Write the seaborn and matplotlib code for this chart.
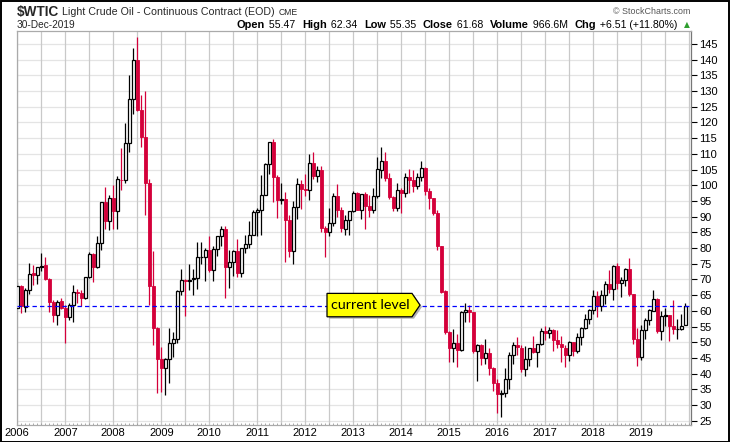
import numpy as np
import pandas as pd
import matplotlib
matplotlib.use("Agg")
import matplotlib.pyplot as plt
from matplotlib.patches import Polygon, Rectangle
import seaborn as sns

# ---------------- data (monthly OHLC, Jan 2006 .. Dec 2019) ----------------
years = list(range(2006, 2020))
opens = [
    61.04, 67.93, 61.30, 66.70, 71.90, 71.30, 73.95, 74.45, 70.20, 62.90, 58.75, 62.99,
    61.05, 58.16, 61.80, 65.90, 65.70, 64.00, 70.70, 78.20, 74.00, 81.60, 94.60, 88.70,
    96.00, 91.80, 101.80, 101.60, 113.50, 127.40, 140.00, 124.10, 115.50, 100.60, 67.80, 54.40,
    44.60, 41.70, 44.80, 49.70, 51.10, 66.30, 69.90, 69.50, 70.00, 70.60, 77.00, 77.30,
    79.40, 72.90, 79.70, 83.80, 86.20, 74.00, 75.60, 79.00, 71.90, 80.00, 81.40, 84.10,
    91.40, 92.20, 97.00, 106.70, 113.90, 102.70, 95.40, 95.70, 88.80, 79.20, 93.20, 100.40,
    98.80, 98.50, 107.10, 103.00, 104.90, 86.50, 85.00, 88.10, 96.50, 92.20, 86.20, 88.90,
    91.80, 97.50, 92.00, 97.20, 93.50, 92.00, 96.60, 105.00, 107.70, 102.30, 96.40, 92.70,
    98.40, 97.50, 102.60, 101.60, 99.70, 102.70, 105.40, 98.20, 96.00, 91.20, 80.50, 66.20,
    53.30, 48.20, 49.80, 47.60, 59.60, 60.30, 59.50, 47.10, 49.20, 45.10, 46.60, 41.70,
    37.00, 33.60, 33.80, 38.30, 45.90, 49.10, 48.30, 41.60, 44.70, 48.20, 46.90, 49.40,
    53.70, 52.80, 54.00, 50.60, 49.30, 48.30, 46.00, 50.20, 47.20, 51.70, 54.40, 57.40,
    60.40, 64.70, 61.60, 64.90, 68.60, 67.00, 74.20, 68.80, 69.80, 73.30, 65.30, 50.90,
    45.40, 53.80, 57.20, 60.10, 63.90, 53.50, 58.50, 58.60, 55.10, 54.10, 54.20, 55.47,
]
highs = [
    69.20, 68.30, 67.25, 75.35, 74.60, 74.05, 78.40, 77.05, 70.40, 63.50, 63.50, 64.00,
    62.00, 62.40, 68.09, 66.80, 66.70, 70.85, 78.77, 78.30, 83.90, 94.74, 99.29, 97.00,
    100.09, 103.05, 111.80, 119.93, 135.09, 143.67, 147.27, 128.60, 130.00, 102.00, 79.00, 55.00,
    48.60, 45.00, 54.66, 53.10, 66.50, 73.38, 70.00, 75.00, 73.40, 82.00, 82.00, 80.00,
    83.95, 80.50, 83.85, 87.15, 87.00, 79.40, 79.30, 83.00, 80.10, 84.00, 88.63, 92.00,
    92.60, 103.40, 107.00, 113.90, 114.80, 103.40, 100.60, 98.00, 90.50, 95.00, 102.40, 101.80,
    103.70, 109.95, 110.55, 106.00, 106.00, 87.00, 92.90, 97.50, 100.40, 93.00, 90.50, 91.90,
    98.24, 97.80, 97.35, 97.70, 97.00, 99.10, 108.90, 112.24, 110.74, 104.00, 96.50, 100.80,
    99.00, 103.80, 105.20, 104.99, 104.00, 107.68, 105.80, 99.00, 95.90, 92.20, 80.50, 66.60,
    53.50, 54.24, 52.50, 59.90, 62.58, 61.90, 59.70, 49.30, 49.50, 50.90, 48.00, 42.00,
    38.40, 34.70, 41.90, 46.80, 50.20, 51.67, 49.00, 48.75, 48.30, 51.93, 49.20, 54.50,
    55.24, 54.90, 54.30, 53.80, 52.00, 49.00, 50.40, 50.20, 52.90, 54.90, 59.05, 60.50,
    66.66, 66.30, 66.60, 69.56, 72.90, 74.46, 75.27, 70.90, 73.80, 76.90, 65.50, 54.60,
    55.40, 57.80, 60.70, 66.60, 63.98, 59.90, 60.90, 58.60, 63.38, 57.30, 58.90, 62.34,
]
lows = [
    60.46, 59.20, 59.60, 65.40, 68.10, 68.50, 72.60, 69.75, 59.52, 56.55, 55.35, 60.70,
    49.90, 57.20, 56.40, 62.60, 61.40, 63.80, 70.30, 69.10, 73.60, 79.50, 86.00, 85.70,
    86.11, 86.10, 98.65, 100.70, 110.70, 122.80, 123.70, 112.24, 90.51, 62.00, 49.00, 33.90,
    34.00, 33.20, 37.00, 45.40, 49.90, 65.00, 58.32, 66.60, 65.05, 66.90, 75.00, 69.50,
    72.43, 69.50, 77.60, 80.50, 64.24, 67.20, 71.00, 70.80, 70.80, 78.50, 80.00, 84.00,
    83.90, 84.10, 97.00, 103.50, 94.60, 89.70, 94.00, 75.70, 77.10, 74.95, 89.20, 92.50,
    96.60, 95.40, 102.00, 101.00, 85.00, 77.28, 83.70, 87.00, 90.00, 85.00, 84.00, 84.00,
    91.60, 92.00, 89.30, 86.06, 89.80, 91.10, 96.00, 102.20, 101.50, 95.60, 91.80, 91.80,
    91.20, 96.20, 97.40, 98.00, 98.70, 101.50, 97.00, 92.50, 90.50, 79.40, 65.70, 52.60,
    43.60, 43.60, 42.03, 47.10, 56.50, 56.50, 46.70, 37.75, 42.60, 43.00, 39.70, 34.50,
    27.56, 26.05, 32.70, 35.20, 43.00, 45.80, 40.60, 39.20, 42.50, 46.60, 42.20, 49.20,
    50.70, 51.20, 47.10, 48.20, 43.80, 42.05, 44.10, 45.60, 46.70, 49.10, 54.20, 55.80,
    59.00, 58.07, 59.90, 62.30, 65.80, 63.60, 67.00, 64.40, 67.90, 64.80, 49.40, 42.36,
    44.35, 50.90, 55.40, 59.90, 53.00, 50.60, 55.30, 50.50, 52.50, 50.99, 54.00, 55.35,
]
closes = [
    67.92, 61.41, 66.63, 71.88, 71.29, 73.93, 74.40, 70.26, 62.91, 58.73, 62.97, 61.05,
    58.14, 61.79, 65.87, 65.71, 64.01, 70.68, 78.21, 74.04, 81.66, 94.53, 88.71, 95.98,
    91.75, 101.84, 101.58, 113.46, 127.35, 140.00, 124.08, 115.46, 100.64, 67.81, 54.43, 44.60,
    41.68, 44.76, 49.66, 51.12, 66.31, 69.89, 69.45, 69.96, 70.61, 77.00, 77.28, 79.36,
    72.89, 79.66, 83.76, 86.15, 73.97, 75.63, 78.95, 71.92, 79.97, 81.43, 84.11, 91.38,
    92.19, 96.97, 106.72, 113.93, 102.70, 95.42, 95.70, 88.81, 79.20, 93.19, 100.36, 98.83,
    98.48, 107.07, 103.02, 104.87, 86.53, 84.96, 88.06, 96.47, 92.19, 86.24, 88.91, 91.82,
    97.49, 92.05, 97.23, 93.46, 91.97, 96.56, 105.03, 107.65, 102.33, 96.38, 92.72, 98.42,
    97.49, 102.59, 101.58, 99.74, 102.71, 105.37, 98.17, 95.96, 91.16, 80.54, 66.15, 53.27,
    48.24, 49.76, 47.60, 59.63, 60.30, 59.47, 47.12, 49.20, 45.09, 46.59, 41.65, 37.04,
    33.62, 33.75, 38.34, 45.92, 49.10, 48.33, 41.60, 44.70, 48.24, 46.86, 49.44, 53.72,
    52.81, 54.01, 50.60, 49.33, 48.32, 46.04, 50.17, 47.23, 51.67, 54.38, 57.40, 60.42,
    64.73, 61.64, 64.94, 68.57, 67.04, 74.15, 68.76, 69.80, 73.25, 65.31, 50.93, 45.41,
    53.79, 57.22, 60.14, 63.91, 53.50, 58.47, 58.58, 55.10, 54.07, 54.18, 55.17, 61.68,
]
y_ticks = list(range(25, 150, 5))
current_level = 61.68
title_symbol = "$WTIC"
title_name = "Light Crude Oil - Continuous Contract (EOD)"
title_exchange = "CME"
date_label = "30-Dec-2019"
stats_labels = ["Open", "High", "Low", "Close", "Volume", "Chg"]
stats_values = ["55.47", "62.34", "55.35", "61.68", "966.6M", "+6.51 (+11.80%)"]

# ---------------- figure ----------------
W, H = 730, 442
sns.set_theme(style="white")
plt.rcParams["font.family"] = ["Liberation Sans", "DejaVu Sans"]

df = pd.DataFrame({"open": opens, "high": highs, "low": lows, "close": closes})
df["i"] = np.arange(len(df))
df["up"] = df["close"] >= df["open"]

fig = plt.figure(figsize=(W / 100, H / 100), dpi=100)
fig.patch.set_facecolor("white")
ax = fig.add_axes([17.3 / W, (H - 425) / H, (691 - 17.3) / W, (425 - 31) / H])
ax.set_facecolor("white")

px_per_unit = 376.7 / 120.0
ymin = 145 - (425 - 44) / px_per_unit
ymax = 145 + (44 - 31) / px_per_unit
ax.set_ylim(ymin, ymax)
ax.set_xlim(0, (691 - 17.3) / 4.0)

RED = "#D4003A"
# grid
for v in y_ticks:
    ax.axhline(v, color="#E4E4E4", lw=0.9, zorder=0)
for k in range(0, 169, 6):
    ax.axvline(k, color="#C9C9C9", lw=0.9, zorder=0)

# wicks
for up, col in [(True, "black"), (False, RED)]:
    sub = df[df["up"] == up]
    ax.vlines(sub["i"], sub["low"], sub["high"], color=col, lw=0.9, zorder=2)

# bodies
bw = 0.78
for _, r in df.iterrows():
    lo = min(r["open"], r["close"])
    h = max(abs(r["close"] - r["open"]), 0.25)
    if r["up"]:
        ax.add_patch(Rectangle((r["i"] - bw / 2, lo), bw, h, facecolor="white",
                               edgecolor="black", lw=0.9, zorder=3))
    else:
        ax.add_patch(Rectangle((r["i"] - bw / 2, lo), bw, h, facecolor=RED,
                               edgecolor=RED, lw=0.6, zorder=3))

# current level line
xl = ax.get_xlim()
sns.lineplot(x=[xl[0], xl[1]], y=[current_level, current_level], ax=ax,
             color="#0000FF", lw=0.9, dashes=False, zorder=4)
ax.lines[-1].set_dashes([3.5, 2.5])
ax.set_xlim(xl)

# annotation box
cy = current_level + 0.15
hh = 11.7 / px_per_unit
xa, xb, xt = (327 - 17.3) / 4, (412 - 17.3) / 4, (420 - 17.3) / 4
sh_x, sh_y = 0.5, -0.6
shadow = Polygon([(xa + sh_x, cy + hh + sh_y), (xb + sh_x, cy + hh + sh_y), (xt + sh_x, cy + sh_y),
                  (xb + sh_x, cy - hh + sh_y), (xa + sh_x, cy - hh + sh_y)],
                 closed=True, facecolor="#B0B0B0", edgecolor="none", zorder=5)
ax.add_patch(shadow)
box = Polygon([(xa, cy + hh), (xb, cy + hh), (xt, cy), (xb, cy - hh), (xa, cy - hh)],
              closed=True, facecolor="#FFFF00", edgecolor="black", lw=0.9, zorder=6)
ax.add_patch(box)
ax.text((xa + xb) / 2 + 0.1, cy, "current level", ha="center", va="center",
        fontsize=10.3, family=["Lato", "DejaVu Sans"], color="black", zorder=7)

# axes decoration
ax.yaxis.tick_right()
ax.set_yticks(y_ticks)
ax.set_yticklabels([str(v) for v in y_ticks], fontsize=8, color="black")
ax.tick_params(axis="y", which="major", direction="out", length=4, width=0.8,
               color="black", right=True, left=False, pad=2)
ax.set_xticks(list(range(0, 168, 12)))
ax.set_xticklabels([str(y) for y in years], fontsize=8, color="black")
ax.set_xticks(list(range(0, 169)), minor=True)
ax.tick_params(axis="x", which="major", length=0, pad=2)
ax.tick_params(axis="x", which="minor", direction="in", length=1.5, width=0.6,
               color="#999999", bottom=True)
for s in ["left", "top", "bottom"]:
    ax.spines[s].set_color("#AAAAAA")
    ax.spines[s].set_linewidth(0.9)
ax.spines["right"].set_color("#777777")
ax.spines["right"].set_linewidth(0.9)
ax.set_xlabel("")
ax.set_ylabel("")
ax.grid(False)

# outer frame
fig.add_artist(Rectangle((0.5 / W, 0.5 / H), (W - 1.5) / W, (H - 1.5) / H,
                         transform=fig.transFigure, fill=False, edgecolor="black", lw=1.4))

# header
def fx(p):
    return p / W

def fy(p):
    return 1 - p / H

t1 = fig.text(fx(17), fy(12), title_symbol, fontsize=9.8, fontweight="bold", va="center", ha="left")
fig.canvas.draw()
r = fig.canvas.get_renderer()
x1 = t1.get_window_extent(r).x1 + 3
t2 = fig.text(fx(x1), fy(12), title_name, fontsize=7.7, va="center", ha="left")
fig.canvas.draw()
x2 = t2.get_window_extent(r).x1 + 4
fig.text(fx(x2), fy(12.5), title_exchange, fontsize=6.2, va="center", ha="left")
fig.text(fx(17), fy(24.5), date_label, fontsize=7.3, va="center", ha="left")
fig.text(fx(690), fy(12), "\u00a9 StockCharts.com", fontsize=6.4, color="#555555",
         va="center", ha="right")

# stats line, laid out left to right then shifted to end at x=690
pieces = []
for lab, val in zip(stats_labels, stats_values):
    pieces.append((lab, "bold"))
    pieces.append((" " + val + "  ", "normal"))
pieces.append(("\u25b2", "normal"))
texts = []
x = 0.0
for s, w in pieces:
    t = fig.text(fx(x), fy(24.5), s, fontsize=7.9 if w == "bold" else 7.6,
                 fontweight=w, va="center", ha="left",
                 color="#2E9E2E" if s == "\u25b2" else "black")
    if s == "\u25b2":
        t.set_fontsize(5.5)
        t.set_family(["DejaVu Sans"])
    fig.canvas.draw()
    bb = t.get_window_extent(r)
    texts.append(t)
    x = bb.x1 + (1 if s != "\u25b2" else 0)
shift = 690 - x
for t in texts:
    px, py = t.get_position()
    t.set_position((px + shift / W, py))

fig.savefig("out.png", dpi=100, facecolor="white")
